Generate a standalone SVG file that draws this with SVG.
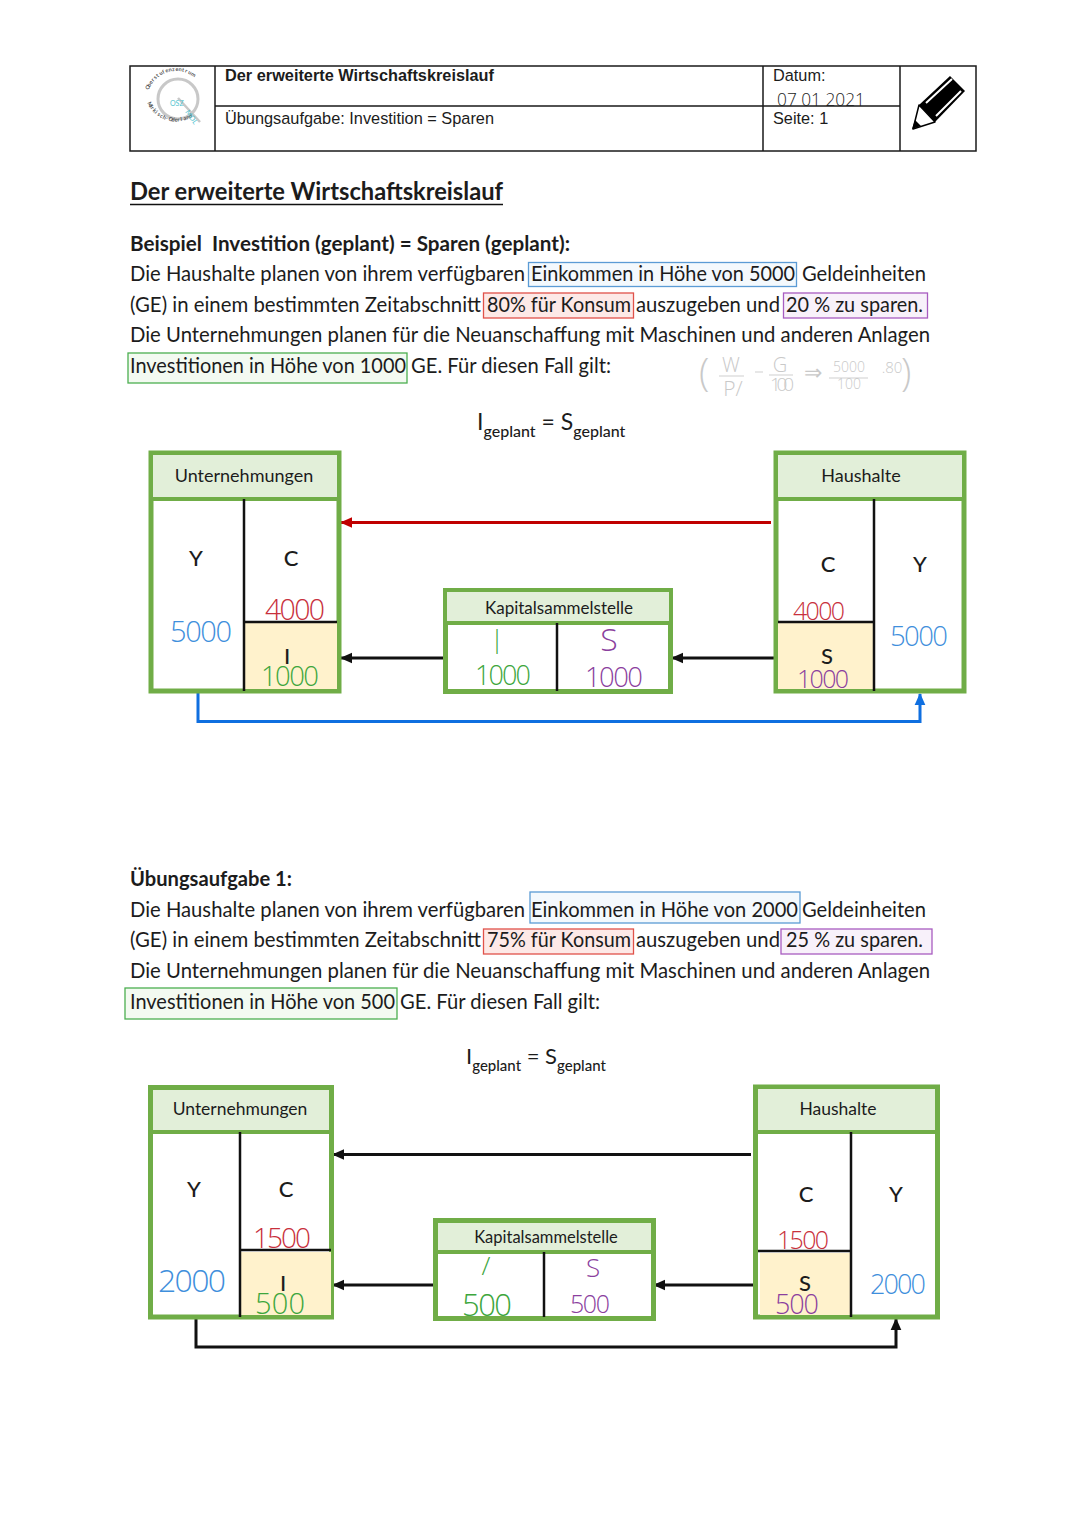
<svg xmlns="http://www.w3.org/2000/svg" width="1080" height="1527" viewBox="0 0 1080 1527">
<style>
text{font-family:"Lato","Carlito","Noto Sans",sans-serif;fill:#1c1c1c}
.b{font-size:20.5px}
.bb{font-size:20.5px;font-weight:700}
.h{font-size:24px;font-weight:700}
.a{font-family:"Liberation Sans",Arial,sans-serif;font-size:16.3px}
.ab{font-family:"Liberation Sans",Arial,sans-serif;font-size:16.3px;font-weight:700}
.lbl{font-size:18px;text-anchor:middle}
.lbl2{font-size:17px;text-anchor:middle}
.v{font-size:22px;font-weight:500;text-anchor:middle}
.hw{font-family:"Open Sans","Lato",sans-serif;font-weight:300;font-size:28px;text-anchor:middle}
.red{fill:#c8303c}.blue{fill:#3f8fdc}.green{fill:#3da63d}.pur{fill:#8b3f9e}
.eq{font-size:23px}.sub{font-size:16px;font-weight:500}
.eq2{font-size:22px}.sub2{font-size:15px;font-weight:500}
.pen{fill:#c9c9c9;font-family:"Open Sans",sans-serif;font-weight:300}
.logo{font-size:5.500px;font-weight:700;fill:#555}
.box{fill:#fff;stroke:#70ad47;stroke-width:5}
.head{fill:#e2efd9}
.hline{stroke:#70ad47;stroke-width:4;fill:none}
.yel{fill:#fff2cc}
.k{stroke:#111;stroke-width:2.5;fill:none}
.t{stroke:#1a1a1a;stroke-width:1.5;fill:none}
.con{fill:none;stroke-width:3}
</style>
<defs>
<marker id="mk" markerWidth="4" markerHeight="4" refX="3.7" refY="2" orient="auto" markerUnits="strokeWidth"><path d="M0 .2L4 2L0 3.8z" fill="#111"/></marker>
<marker id="mr" markerWidth="4" markerHeight="4" refX="3.7" refY="2" orient="auto" markerUnits="strokeWidth"><path d="M0 .2L4 2L0 3.8z" fill="#c00000"/></marker>
<marker id="mb" markerWidth="4" markerHeight="4" refX="3.7" refY="2" orient="auto" markerUnits="strokeWidth"><path d="M0 .2L4 2L0 3.8z" fill="#0f6fe0"/></marker>
</defs>

<g id="header">
<rect x="130" y="66" width="846" height="85" class="t"/>
<path class="t" d="M215 66V151M763 66V151M900 66V151M215 106H900"/>
<text class="ab" x="225" y="81" textLength="269" lengthAdjust="spacingAndGlyphs">Der erweiterte Wirtschaftskreislauf</text>
<text class="a" x="225" y="124" textLength="269" lengthAdjust="spacingAndGlyphs">Übungsaufgabe: Investition = Sparen</text>
<text class="a" x="773" y="81">Datum:</text>
<text class="a" x="773" y="124">Seite: 1</text>
<text x="777" y="106" style="font-family:'Open Sans',sans-serif;font-weight:300;font-size:18px" textLength="88" lengthAdjust="spacingAndGlyphs">07 01 2021</text>
</g>
<g id="logo">
<circle cx="178" cy="99" r="20" fill="none" stroke="#c8c8c8" stroke-width="3"/>
<path d="M178 98L200 122" stroke="#c8c8c8" stroke-width="2.500" fill="none"/>
<text class="logo" x="148.700 150 151.500 153.400 155.500 157.800 160.400 163.200 166.100 169.100 172.200 175.400 178.500 181.700 184.700 187.700 190.500" y="90.100 87.200 84.400 81.800 79.500 77.400 75.600 74 72.700 71.800 71.300 71 71.100 71.600 72.300 73.500 74.900" rotate="-70 -64 -57 -51 -45 -39 -32 -26 -20 -14 -7 -1 5 11 17 24 30">Oberstufenzentrum</text>
<text class="logo" x="147.200 148.700 150.400 152.300 154.500 156.900 159.600 162.300 165.200 168.200 171.300 174.500 177.600 180.800 183.900 186.900 189.800" y="102.800 105.600 108.300 110.800 113 115.100 116.900 118.400 119.600 120.500 121.200 121.500 121.500 121.100 120.500 119.500 118.300" rotate="66 60 54 49 43 37 31 26 20 14 8 3 -3 -9 -14 -20 -26">Märkisch-Oderland</text>
<text x="170" y="106" style="font-size:7px;fill:#4fc3cf">OSZ</text>
<text x="185" y="112" style="font-size:7px;fill:#4fc3cf" transform="rotate(55 185 112)">MOL</text>
</g>
<g id="pencil">
<path d="M919 105L950 76L965 91L935 122Z" fill="#000"/>
<path d="M919 105L935 122L913 129Z" fill="#fff" stroke="#000" stroke-width="1.500" stroke-linejoin="round"/>
<path d="M912 129L915 120L921 126Z" fill="#000"/>
<path d="M926 103L952 79M936 116L961 91" stroke="#fff" stroke-width="2" fill="none"/>
</g>

<g id="text1">
<text class="h" x="130" y="200" textLength="373" lengthAdjust="spacingAndGlyphs">Der erweiterte Wirtschaftskreislauf</text>
<path d="M130 204.500H503" stroke="#111" stroke-width="1.600"/>
<text class="bb" x="130" y="251" textLength="440" lengthAdjust="spacingAndGlyphs" xml:space="preserve">Beispiel  Investition (geplant) = Sparen (geplant):</text>
<text class="b" x="130" y="281" textLength="395" lengthAdjust="spacingAndGlyphs">Die Haushalte planen von ihrem verfügbaren</text>
<rect x="528.500" y="262.500" width="268" height="24" fill="#f4f9fd" stroke="#5b9bd5" stroke-width="1.300"/>
<text class="b" x="531" y="281" textLength="264" lengthAdjust="spacingAndGlyphs">Einkommen in Höhe von 5000</text>
<text class="b" x="802" y="281" textLength="124" lengthAdjust="spacingAndGlyphs">Geldeinheiten</text>
<text class="b" x="130" y="312" textLength="351" lengthAdjust="spacingAndGlyphs">(GE) in einem bestimmten Zeitabschnitt</text>
<rect x="483.500" y="293" width="150" height="25" fill="#fde9e7" stroke="#e0524a" stroke-width="1.300"/>
<text class="b" x="487" y="312" textLength="144" lengthAdjust="spacingAndGlyphs">80% für Konsum</text>
<text class="b" x="636" y="312" textLength="144" lengthAdjust="spacingAndGlyphs">auszugeben und</text>
<rect x="783.500" y="293" width="144" height="25" fill="#f8f1fa" stroke="#a85cc0" stroke-width="1.300"/>
<text class="b" x="786" y="312" textLength="137" lengthAdjust="spacingAndGlyphs">20 % zu sparen.</text>
<text class="b" x="130" y="342" textLength="800" lengthAdjust="spacingAndGlyphs">Die Unternehmungen planen für die Neuanschaffung mit Maschinen und anderen Anlagen</text>
<rect x="128" y="353" width="279" height="30" fill="#f3faf1" stroke="#4caf50" stroke-width="1.300"/>
<text class="b" x="130" y="373" textLength="276" lengthAdjust="spacingAndGlyphs">Investitionen in Höhe von 1000</text>
<text class="b" x="411" y="373" textLength="200" lengthAdjust="spacingAndGlyphs">GE. Für diesen Fall gilt:</text>
</g>
<g id="pencil-note">
<text class="pen" x="699" y="386" style="font-size:38px">(</text>
<text class="pen" x="731" y="372" text-anchor="middle" style="font-size:20px">W</text>
<path d="M719 376H744M769 375H793M829 378H868M755 372H763" stroke="#cfcfcf" stroke-width="1" fill="none"/>
<text class="pen" x="733" y="396" text-anchor="middle" style="font-size:21px">P/</text>
<text class="pen" x="780" y="372" text-anchor="middle" style="font-size:20px">G</text>
<text class="pen" x="782" y="391" text-anchor="middle" style="font-size:19px" textLength="24">100</text>
<text class="pen" x="813" y="380" text-anchor="middle" style="font-size:22px">⇒</text>
<text class="pen" x="849" y="372" text-anchor="middle" style="font-size:14px">5000</text>
<text class="pen" x="849" y="389" text-anchor="middle" style="font-size:14px">100</text>
<text class="pen" x="892" y="373" text-anchor="middle" style="font-size:15px">.80</text>
<text class="pen" x="901" y="386" style="font-size:38px">)</text>
</g>
<g id="eq1">
<text x="477" y="431"><tspan class="eq" dy="-1">I</tspan><tspan class="sub" dy="7">geplant</tspan><tspan class="eq" dy="-7"> = S</tspan><tspan class="sub" dy="7">geplant</tspan></text>
</g>

<g id="connectors">
<path class="con" stroke="#c00000" d="M771 522.500H341" stroke-width="3.500" marker-end="url(#mr)"/>
<path class="con" stroke="#111" d="M445 658H341" marker-end="url(#mk)"/>
<path class="con" stroke="#111" d="M776 658H672" marker-end="url(#mk)"/>
<path class="con" stroke="#0f6fe0" d="M198 693V721.500H920V694" marker-end="url(#mb)"/>
<path class="con" stroke="#111" d="M751 1154.500H333" marker-end="url(#mk)"/>
<path class="con" stroke="#111" d="M434 1285H333" marker-end="url(#mk)"/>
<path class="con" stroke="#111" d="M755 1285H654" marker-end="url(#mk)"/>
<path class="con" stroke="#111" d="M196 1319V1347H896V1319" marker-end="url(#mk)"/>
</g>

<g id="unternehmungen-1">
<rect class="box" x="151" y="453" width="188" height="238"/>
<rect class="head" x="153" y="455" width="184" height="43"/>
<rect class="yel" x="244" y="622" width="93" height="67"/>
<path class="hline" d="M151 499H339"/>
<path class="k" d="M244 499V691M244 622H337"/>
<text class="lbl" x="244" y="482">Unternehmungen</text>
<text class="v" x="196" y="566">Y</text><text class="v" x="291" y="566">C</text><text class="v" x="287" y="664">I</text>
<text class="hw blue" x="201" y="642" style="font-size:29px" textLength="62">5000</text>
<text class="hw red" x="295" y="620" style="font-size:28.500px" textLength="60">4000</text>
<text class="hw green" x="290" y="686" style="font-size:27.500px" textLength="58">1000</text>
</g>
<g id="kapital-1">
<rect class="box" x="445.500" y="590.500" width="225" height="101"/>
<rect class="head" x="447" y="592" width="222" height="30"/>
<path class="hline" d="M445 623H671"/>
<path class="k" d="M557 623V691"/>
<text class="lbl2" x="559" y="614">Kapitalsammelstelle</text>
<text class="hw green" x="497" y="648" style="font-size:26px">|</text>
<text class="hw pur" x="609" y="651" style="font-size:32px">S</text>
<text class="hw green" x="503" y="685" style="font-size:27px" textLength="56">1000</text>
<text class="hw pur" x="614" y="687" style="font-size:27.500px" textLength="58">1000</text>
</g>
<g id="haushalte-1">
<rect class="box" x="776" y="453" width="188" height="238"/>
<rect class="head" x="778" y="455" width="184" height="43"/>
<rect class="yel" x="778" y="623" width="96" height="66"/>
<path class="hline" d="M776 499H964"/>
<path class="k" d="M874 499V691M778 622H874"/>
<text class="lbl" x="861" y="482">Haushalte</text>
<text class="v" x="828" y="572">C</text><text class="v" x="920" y="572">Y</text><text class="v" x="827" y="664">S</text>
<text class="hw red" x="819" y="620" style="font-size:25px" textLength="52">4000</text>
<text class="hw blue" x="919" y="646" style="font-size:27.500px" textLength="58">5000</text>
<text class="hw pur" x="823" y="688" style="font-size:25px" textLength="52">1000</text>
</g>

<g id="text2">
<text class="bb" x="130" y="886" textLength="162" lengthAdjust="spacingAndGlyphs">Übungsaufgabe 1:</text>
<text class="b" x="130" y="917" textLength="395" lengthAdjust="spacingAndGlyphs">Die Haushalte planen von ihrem verfügbaren</text>
<rect x="530" y="892" width="270" height="31" fill="#f4f9fd" stroke="#5b9bd5" stroke-width="1.300"/>
<text class="b" x="531" y="917" textLength="267" lengthAdjust="spacingAndGlyphs">Einkommen in Höhe von 2000</text>
<text class="b" x="802" y="917" textLength="124" lengthAdjust="spacingAndGlyphs">Geldeinheiten</text>
<text class="b" x="130" y="947" textLength="351" lengthAdjust="spacingAndGlyphs">(GE) in einem bestimmten Zeitabschnitt</text>
<rect x="483.500" y="929" width="150" height="25" fill="#fde9e7" stroke="#e0524a" stroke-width="1.300"/>
<text class="b" x="487" y="947" textLength="144" lengthAdjust="spacingAndGlyphs">75% für Konsum</text>
<text class="b" x="636" y="947" textLength="144" lengthAdjust="spacingAndGlyphs">auszugeben und</text>
<rect x="781" y="929" width="151" height="25" fill="#f8f1fa" stroke="#a85cc0" stroke-width="1.300"/>
<text class="b" x="786" y="947" textLength="137" lengthAdjust="spacingAndGlyphs">25 % zu sparen.</text>
<text class="b" x="130" y="978" textLength="800" lengthAdjust="spacingAndGlyphs">Die Unternehmungen planen für die Neuanschaffung mit Maschinen und anderen Anlagen</text>
<rect x="125" y="988" width="272" height="31" fill="#f3faf1" stroke="#4caf50" stroke-width="1.300"/>
<text class="b" x="130" y="1009" textLength="265" lengthAdjust="spacingAndGlyphs">Investitionen in Höhe von 500</text>
<text class="b" x="400" y="1009" textLength="200" lengthAdjust="spacingAndGlyphs">GE. Für diesen Fall gilt:</text>
</g>
<g id="eq2">
<text x="466" y="1065"><tspan class="eq2" dy="-1">I</tspan><tspan class="sub2" dy="7">geplant</tspan><tspan class="eq2" dy="-7"> = S</tspan><tspan class="sub2" dy="7">geplant</tspan></text>
</g>

<g id="unternehmungen-2">
<rect class="box" x="150.500" y="1087.500" width="181" height="229.500"/>
<rect class="head" x="153" y="1090" width="176" height="41"/>
<rect class="yel" x="241" y="1252" width="90" height="63"/>
<path class="hline" d="M150 1132H332"/>
<path class="k" d="M240 1132V1317M240 1250H331"/>
<text class="lbl" x="240" y="1115" style="font-size:17.500px">Unternehmungen</text>
<text class="v" x="194" y="1197">Y</text><text class="v" x="286" y="1197">C</text><text class="v" x="283" y="1291">I</text>
<text class="hw blue" x="192" y="1292" style="font-size:32px" textLength="68">2000</text>
<text class="hw red" x="282" y="1248" style="font-size:28px" textLength="58">1500</text>
<text class="hw green" x="280" y="1314" style="font-size:29px" textLength="50">500</text>
</g>
<g id="kapital-2">
<rect class="box" x="435.500" y="1220.500" width="218" height="98"/>
<rect class="head" x="438" y="1223" width="213" height="28"/>
<path class="hline" d="M435 1252H654"/>
<path class="k" d="M544 1252V1317"/>
<text class="lbl2" x="546" y="1243" style="font-size:16.500px">Kapitalsammelstelle</text>
<text class="hw green" x="486" y="1275" style="font-size:26px">/</text>
<text class="hw pur" x="593" y="1277" style="font-size:26px">S</text>
<text class="hw green" x="487" y="1316" style="font-size:31px" textLength="50">500</text>
<text class="hw pur" x="590" y="1313" style="font-size:25px" textLength="40">500</text>
</g>
<g id="haushalte-2">
<rect class="box" x="755.500" y="1087" width="182" height="230"/>
<rect class="head" x="758" y="1089" width="177" height="42"/>
<rect class="yel" x="760" y="1253" width="91" height="62"/>
<path class="hline" d="M755 1132H938"/>
<path class="k" d="M851 1132V1317M758 1251H851"/>
<text class="lbl" x="838" y="1115" style="font-size:17.500px">Haushalte</text>
<text class="v" x="806" y="1202">C</text><text class="v" x="896" y="1202">Y</text><text class="v" x="805" y="1291">S</text>
<text class="hw red" x="803" y="1249" style="font-size:25px" textLength="52">1500</text>
<text class="hw blue" x="898" y="1294" style="font-size:27px" textLength="56">2000</text>
<text class="hw pur" x="797" y="1314" style="font-size:27px" textLength="44">500</text>
</g>
</svg>
